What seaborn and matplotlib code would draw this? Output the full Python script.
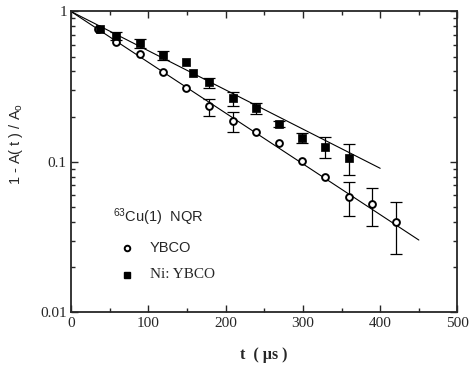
import numpy as np
import pandas as pd
import matplotlib
matplotlib.use("Agg")
import matplotlib.pyplot as plt
import matplotlib.ticker as mticker
import seaborn as sns

# YBCO (open circles)
ybco_t = [35, 58, 89, 119, 149, 179, 209, 239, 269, 299, 329, 360, 390, 420]
ybco_y = [0.77, 0.63, 0.52, 0.394, 0.309, 0.236, 0.188, 0.159, 0.134, 0.1016, 0.079, 0.0588, 0.0524, 0.0397]
ybco_lo = [np.nan, np.nan, np.nan, np.nan, np.nan, 0.203, 0.158, np.nan, np.nan, np.nan, np.nan, 0.0438, 0.0376, 0.0244]
ybco_hi = [np.nan, np.nan, np.nan, np.nan, np.nan, 0.261, 0.216, np.nan, np.nan, np.nan, np.nan, 0.074, 0.0669, 0.0545]

# Ni: YBCO (filled squares)
ni_t = [38, 58, 89, 119, 149, 158, 179, 209, 239, 269, 299, 329, 360]
ni_y = [0.765, 0.69, 0.615, 0.514, 0.464, 0.392, 0.338, 0.265, 0.227, 0.179, 0.144, 0.126, 0.107]
ni_lo = [np.nan, 0.646, 0.569, 0.476, np.nan, np.nan, 0.309, 0.235, 0.208, 0.172, 0.133, 0.107, 0.082]
ni_hi = [np.nan, 0.734, 0.656, 0.549, np.nan, np.nan, 0.363, 0.291, 0.245, 0.186, 0.155, 0.146, 0.132]

# fitted exponential lines (end points)
ybco_fit_t = [0, 450]
ybco_fit_y = [1.0, 0.0303]
ni_fit_t = [0, 400]
ni_fit_y = [1.0, 0.0908]

sns.set_style("ticks")
plt.rcParams["font.family"] = ["Liberation Serif", "DejaVu Serif"]
plt.rcParams["mathtext.fontset"] = "custom"
plt.rcParams["mathtext.rm"] = "Liberation Sans"
plt.rcParams["mathtext.it"] = "Liberation Sans:italic"

fig = plt.figure(figsize=(4.77, 3.66), dpi=100)
ax = fig.add_axes([0.1488, 0.1462, 0.8103, 0.8224])

ybco = pd.DataFrame({"t": ybco_t, "y": ybco_y, "lo": ybco_lo, "hi": ybco_hi})
ni = pd.DataFrame({"t": ni_t, "y": ni_y, "lo": ni_lo, "hi": ni_hi})
fits = pd.DataFrame({
    "t": ybco_fit_t + ni_fit_t,
    "y": ybco_fit_y + ni_fit_y,
    "set": ["YBCO"] * 2 + ["Ni"] * 2,
})

# fit lines
sns.lineplot(data=fits, x="t", y="y", units="set", estimator=None,
             color="black", linewidth=0.8, ax=ax, legend=False)

# error bars
for df in (ybco, ni):
    e = df.dropna()
    ax.errorbar(e["t"], e["y"], yerr=[e["y"] - e["lo"], e["hi"] - e["y"]],
                fmt="none", ecolor="black", elinewidth=0.9, capsize=4, capthick=0.9, zorder=2)

sns.scatterplot(data=ybco, x="t", y="y", marker="o", s=24, facecolor="white",
                edgecolor="black", linewidth=1.4, ax=ax, zorder=3)
sns.scatterplot(data=ni, x="t", y="y", marker="s", s=28, color="black",
                edgecolor="black", linewidth=0.5, ax=ax, zorder=3)

ax.set_yscale("log")
ax.set_xlim(0, 500)
ax.set_ylim(0.01, 1)
ax.xaxis.set_major_locator(mticker.MultipleLocator(100))
ax.xaxis.set_minor_locator(mticker.MultipleLocator(50))
ax.yaxis.set_major_locator(mticker.FixedLocator([0.01, 0.1, 1]))
ax.yaxis.set_major_formatter(mticker.FixedFormatter(["0.01", "0.1", "1"]))
ax.yaxis.set_minor_locator(mticker.LogLocator(base=10, subs=np.arange(2, 10)))
ax.yaxis.set_minor_formatter(mticker.NullFormatter())
ax.tick_params(which="both", direction="in", top=True, right=True, labelsize=11, width=1.0)
ax.tick_params(which="major", length=5, pad=3)
ax.tick_params(which="minor", length=3)
for s in ax.spines.values():
    s.set_linewidth(1.3)

ax.set_xlabel("t  ( \u00b5s )", fontsize=11.5, fontweight="bold")
ax.set_ylabel(r"1 - A( t ) / A$_\mathrm{o}$", fontsize=10.5, family="Liberation Sans")
ax.xaxis.set_label_coords(0.5, -0.115)
ax.yaxis.set_label_coords(-0.12, 0.56)

# legend drawn as annotation
ax.text(0.109, 0.317, r"$^{63}$Cu(1)  NQR", transform=ax.transAxes, fontsize=10.5,
        family="Liberation Sans", va="center", ha="left")
ax.plot([0.145], [0.214], marker="o", ms=4, mfc="white", mec="black", mew=1.4,
        transform=ax.transAxes, clip_on=False)
ax.text(0.204, 0.214, "YBCO", transform=ax.transAxes, fontsize=10.5,
        family="Liberation Sans", va="center", ha="left")
ax.plot([0.145], [0.125], marker="s", ms=5, color="black",
        transform=ax.transAxes, clip_on=False)
ax.text(0.204, 0.125, "Ni: YBCO", transform=ax.transAxes, fontsize=11,
        va="center", ha="left")

fig.savefig("out.png", dpi=100)
